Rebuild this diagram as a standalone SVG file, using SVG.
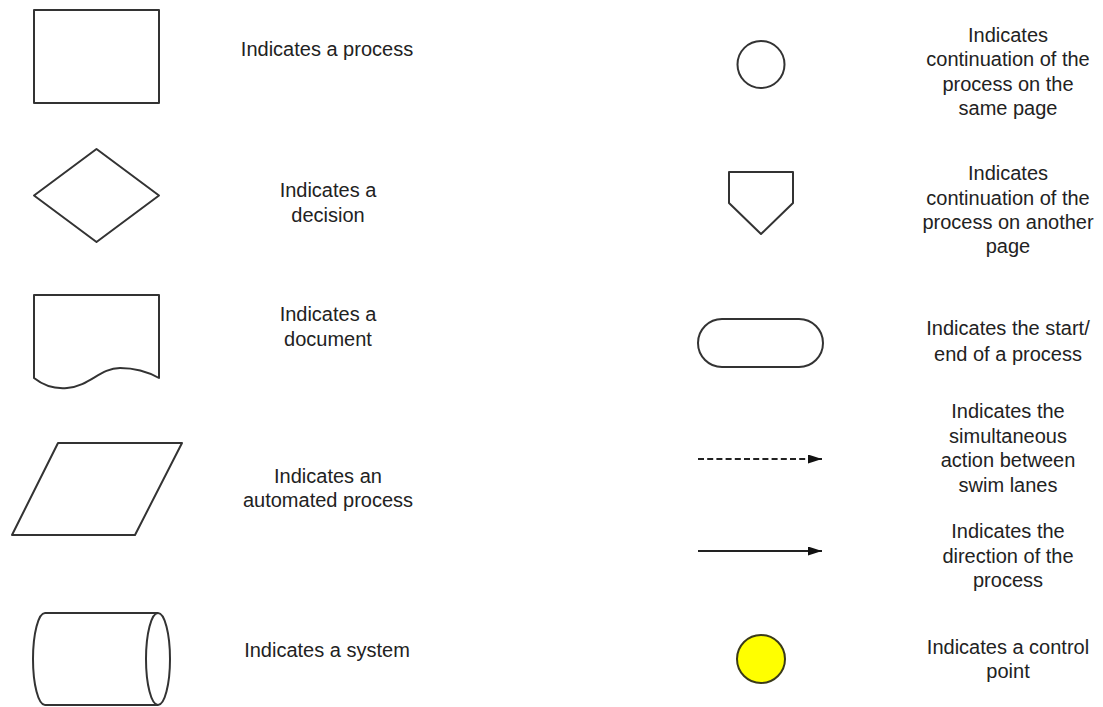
<svg xmlns="http://www.w3.org/2000/svg" width="1103" height="707" viewBox="0 0 1103 707">
  <style>
    .shape { fill: #ffffff; stroke: #333333; stroke-width: 2; stroke-linejoin: round; }
    .ctrl { fill: #ffff00; stroke: #3a3a1a; stroke-width: 2; }
    .lbl { font-family: "Liberation Sans", Arial, sans-serif; font-size: 20px; fill: #222222; text-anchor: middle; }
    .line { stroke: #222222; stroke-width: 2; fill: none; }
    .dash { stroke-dasharray: 6 3.2; }
  </style>
  <defs>
    <marker id="arrow" viewBox="0 0 14 9" refX="14" refY="4.5" markerWidth="14" markerHeight="9" markerUnits="userSpaceOnUse" orient="auto">
      <path d="M0,0 L14,4.5 L0,9 Z" fill="#111111"/>
    </marker>
  </defs>
  <rect width="1103" height="707" fill="#ffffff"/>

  <!-- left column -->
  <g id="process">
    <rect class="shape" x="34" y="10" width="125" height="93"/>
    <text class="lbl" x="327" y="56">Indicates a process</text>
  </g>
  <g id="decision">
    <polygon class="shape" points="96.5,149 159,195.5 96.5,242 34,195.5"/>
    <text class="lbl" x="328" y="197">Indicates a</text>
    <text class="lbl" x="328" y="222">decision</text>
  </g>
  <g id="document">
    <path class="shape" d="M34,295 H159 V378 C150,373 135,368 120,368 C100,368 90,386 67,388 C55,389 44,386 34,378 Z"/>
    <text class="lbl" x="328" y="321">Indicates a</text>
    <text class="lbl" x="328" y="346">document</text>
  </g>
  <g id="automated">
    <polygon class="shape" points="58,443 182,443 135,535 12,535"/>
    <text class="lbl" x="328" y="483">Indicates an</text>
    <text class="lbl" x="328" y="507">automated process</text>
  </g>
  <g id="system">
    <path class="shape" d="M45,613 H158 A12,46 0 0 1 158,705 H45 A12,46 0 0 1 45,613 Z"/>
    <path class="shape" d="M158,613 A12,46 0 0 0 158,705" fill="none"/>
    <text class="lbl" x="327" y="657">Indicates a system</text>
  </g>

  <!-- right column -->
  <g id="onpage">
    <circle class="shape" cx="761" cy="64.5" r="23.5"/>
    <text class="lbl" x="1008" y="42">Indicates</text>
    <text class="lbl" x="1008" y="66">continuation of the</text>
    <text class="lbl" x="1008" y="91">process on the</text>
    <text class="lbl" x="1008" y="115">same page</text>
  </g>
  <g id="offpage">
    <polygon class="shape" points="729,172 793,172 793,203 761,234 729,203"/>
    <text class="lbl" x="1008" y="180">Indicates</text>
    <text class="lbl" x="1008" y="204.5">continuation of the</text>
    <text class="lbl" x="1008" y="229">process on another</text>
    <text class="lbl" x="1008" y="253">page</text>
  </g>
  <g id="terminator">
    <rect class="shape" x="698" y="319" width="125" height="48" rx="24" ry="24"/>
    <text class="lbl" x="1008" y="335">Indicates the start/</text>
    <text class="lbl" x="1008" y="361">end of a process</text>
  </g>
  <g id="simultaneous">
    <text class="lbl" x="1008" y="418">Indicates the</text>
    <text class="lbl" x="1008" y="443">simultaneous</text>
    <text class="lbl" x="1008" y="467">action between</text>
    <text class="lbl" x="1008" y="492">swim lanes</text>
  </g>
  <g id="direction">
    <text class="lbl" x="1008" y="538">Indicates the</text>
    <text class="lbl" x="1008" y="563">direction of the</text>
    <text class="lbl" x="1008" y="587">process</text>
  </g>
  <g id="control">
    <circle class="ctrl" cx="761" cy="659" r="24"/>
    <text class="lbl" x="1008" y="654">Indicates a control</text>
    <text class="lbl" x="1008" y="678">point</text>
  </g>

  <!-- connectors -->
  <g id="connectors">
    <line class="line dash" x1="698" y1="459" x2="822" y2="459" marker-end="url(#arrow)"/>
    <line class="line" x1="698" y1="551" x2="822" y2="551" marker-end="url(#arrow)"/>
  </g>
</svg>
